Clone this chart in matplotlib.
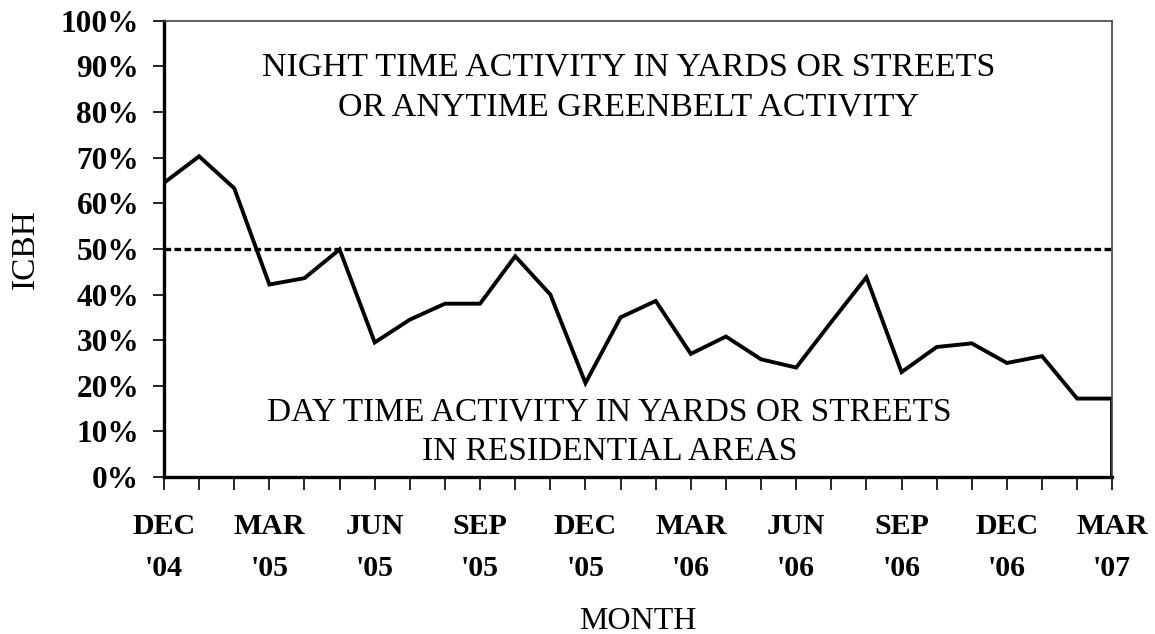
import numpy as np
import matplotlib
matplotlib.use("Agg")
import matplotlib.pyplot as plt
from matplotlib.ticker import FixedLocator, PercentFormatter

# monthly ICBH, Dec '04 .. Mar '07
months = ["DEC\n'04", "JAN\n'05", "FEB\n'05", "MAR\n'05", "APR\n'05", "MAY\n'05",
          "JUN\n'05", "JUL\n'05", "AUG\n'05", "SEP\n'05", "OCT\n'05", "NOV\n'05",
          "DEC\n'05", "JAN\n'06", "FEB\n'06", "MAR\n'06", "APR\n'06", "MAY\n'06",
          "JUN\n'06", "JUL\n'06", "AUG\n'06", "SEP\n'06", "OCT\n'06", "NOV\n'06",
          "DEC\n'06", "JAN\n'07", "FEB\n'07", "MAR\n'07"]
icbh = [64.5, 70.3, 63.3, 42.2, 43.6, 49.9,
        29.5, 34.5, 38.0, 38.0, 48.4, 40.0,
        20.6, 35.0, 38.6, 27.0, 30.8, 25.8,
        24.0, 34.0, 43.8, 23.0, 28.5, 29.3,
        25.0, 26.5, 17.2, 17.2]
threshold = 50
top_text = "NIGHT TIME ACTIVITY IN YARDS OR STREETS\nOR ANYTIME GREENBELT ACTIVITY"
bottom_text = "DAY TIME ACTIVITY IN YARDS OR STREETS\nIN RESIDENTIAL AREAS"

plt.rcParams['font.family'] = ['Liberation Serif', 'DejaVu Serif']

fig = plt.figure(figsize=(11.55, 6.34), dpi=100)
ax = fig.add_axes([0.142, 0.2476, 0.821, 0.7195])

x = np.arange(len(icbh))
ax.plot(x, icbh, color='black', lw=2.8, solid_joinstyle='miter')
# series closes with a drop to zero at the last month
ax.vlines(x[-1], 0, icbh[-1], color='black', lw=2.8)
ax.axhline(threshold, color='black', lw=2.4, linestyle=(0, (2.0, 1.0)))

ax.set_xlim(0, len(icbh) - 1)
ax.set_ylim(0, 100)

ax.set_yticks(np.arange(0, 101, 10))
ax.yaxis.set_major_formatter(PercentFormatter(decimals=0))
major = x[::3]
ax.set_xticks(major)
ax.set_xticklabels([months[i] for i in major], linespacing=1.72)
ax.xaxis.set_minor_locator(FixedLocator(x))

ax.tick_params(axis='y', which='major', direction='out', length=8, width=1.2,
               labelsize=22.5, pad=10)
ax.tick_params(axis='x', which='both', direction='out', length=9, width=1.2)
ax.tick_params(axis='x', which='major', labelsize=21.5, pad=17)
for lab in ax.get_yticklabels() + ax.get_xticklabels():
    lab.set_fontweight('bold')

for side in ['left', 'bottom']:
    ax.spines[side].set_linewidth(2.4)
for side in ['top', 'right']:
    ax.spines[side].set_linewidth(1.2)
    ax.spines[side].set_color('#444444')

ax.set_ylabel('ICBH', fontsize=24, labelpad=14)
ax.set_xlabel('MONTH', fontsize=23, labelpad=18)

ax.text(0.49, 0.854, top_text, transform=ax.transAxes, ha='center', va='center',
        fontsize=24.5, linespacing=1.4)
ax.text(0.47, 0.099, bottom_text, transform=ax.transAxes, ha='center', va='center',
        fontsize=24, linespacing=1.4)

fig.savefig('out.png', dpi=100)
